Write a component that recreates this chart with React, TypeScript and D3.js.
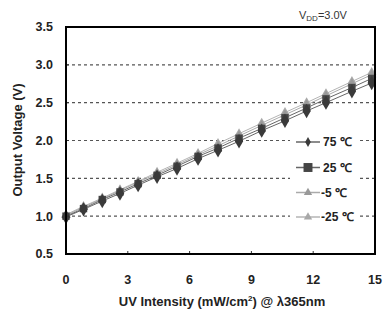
import * as d3 from 'd3';
import React from 'react';

// UV intensity (mW/cm2) where each reading was taken
const intensity = [0, 0.85, 1.76, 2.62, 3.5, 4.42, 5.39, 6.41, 7.38, 8.4, 9.5, 10.63, 11.68, 12.62, 13.88, 14.84];

// output voltage (V) per temperature
const v75 = [0.99, 1.09, 1.2, 1.3, 1.41, 1.52, 1.63, 1.76, 1.87, 1.99, 2.13, 2.26, 2.39, 2.5, 2.65, 2.76];
const v25 = [1.0, 1.1, 1.22, 1.32, 1.43, 1.54, 1.66, 1.79, 1.9, 2.03, 2.16, 2.3, 2.43, 2.55, 2.7, 2.82];
const vm5 = [1.01, 1.12, 1.23, 1.34, 1.45, 1.56, 1.68, 1.81, 1.93, 2.06, 2.2, 2.34, 2.47, 2.59, 2.75, 2.87];
const vm25 = [1.02, 1.13, 1.24, 1.35, 1.46, 1.58, 1.7, 1.83, 1.96, 2.09, 2.23, 2.37, 2.5, 2.62, 2.78, 2.9];

const seriesNames = ['75 ℃', '25 ℃', '-5 ℃', '-25 ℃'];
const xTicks = [0, 3, 6, 9, 12, 15];
const yTicks = [0.5, 1.0, 1.5, 2.0, 2.5, 3.0, 3.5];
const gridValues = [1.0, 1.5, 2.0, 2.5, 3.0];

type Marker = 'diamond' | 'square' | 'triangle';
const styles: { line: string; fill: string; marker: Marker; size: number; legendSize: number }[] = [
    { line: '#666', fill: '#3a3a3a', marker: 'diamond', size: 60, legendSize: 28 },
    { line: '#666', fill: '#454545', marker: 'square', size: 55, legendSize: 80 },
    { line: '#aaa', fill: '#999', marker: 'triangle', size: 38, legendSize: 30 },
    { line: '#b4b4b4', fill: '#a8a8a8', marker: 'triangle', size: 38, legendSize: 30 },
];

const W = 384, H = 314;
const M = { left: 66, right: 375, top: 27, bottom: 254 };
const FONT = '"Liberation Sans", Arial, sans-serif';

function symbolPath(m: Marker, size: number) {
    const t = m === 'diamond' ? d3.symbolDiamond : m === 'square' ? d3.symbolSquare : d3.symbolTriangle;
    return d3.symbol().type(t).size(size)()!;
}

export default function App() {
    const x = d3.scaleLinear([0, 15], [M.left, M.right]);
    const y = d3.scaleLinear([0.5, 3.5], [M.bottom, M.top]);
    const allSeries = [v75, v25, vm5, vm25];

    const line = d3.line<number>()
        .x((_d, i) => x(intensity[i]))
        .y(d => y(d));

    // light series first so the dark markers sit on top
    const drawOrder = [3, 2, 1, 0];
    const legendY = [142, 167.5, 192.5, 217];

    return (
        <svg width={W} height={H} style={{ position: 'absolute', left: 0, top: 0, background: '#fff' }}
            fontFamily={FONT}>
            {gridValues.map(v => (
                <line key={v} x1={M.left} x2={M.right} y1={y(v)} y2={y(v)}
                    stroke="#555" strokeWidth={1.2} strokeDasharray="3,3" />
            ))}
            {drawOrder.map(si => (
                <path key={'l' + si} d={line(allSeries[si])!} fill="none" stroke={styles[si].line} strokeWidth={1} />
            ))}
            {drawOrder.map(si => (
                <g key={'m' + si}>
                    {allSeries[si].map((v, i) => (
                        <path key={i} transform={`translate(${x(intensity[i])},${y(v)})`}
                            d={symbolPath(styles[si].marker, styles[si].size)} fill={styles[si].fill} />
                    ))}
                </g>
            ))}

            {/* legend */}
            <rect x={290} y={130} width={70} height={98} fill="#fff" />
            {seriesNames.map((name, i) => (
                <g key={name} transform={`translate(0,${legendY[i]})`}>
                    <line x1={296} x2={320} y1={0} y2={0} stroke={styles[i].line} strokeWidth={1.5} />
                    <path transform="translate(308,0)" d={symbolPath(styles[i].marker, styles[i].legendSize)}
                        fill={styles[i].fill} />
                    <text x={i >= 2 ? 321 : 323} y={0} dy="0.35em" fontSize={12} fontWeight="bold" fill="#222">{name}</text>
                </g>
            ))}

            {/* ticks inside the frame */}
            {xTicks.slice(1, -1).map(t => (
                <line key={'xt' + t} x1={x(t)} x2={x(t)} y1={M.bottom} y2={M.bottom - 3} stroke="#333" />
            ))}
            {yTicks.slice(1, -1).map(t => (
                <line key={'yt' + t} x1={M.left} x2={M.left + 3} y1={y(t)} y2={y(t)} stroke="#333" />
            ))}
            <rect x={M.left} y={M.top} width={M.right - M.left} height={M.bottom - M.top}
                fill="none" stroke="#000" strokeWidth={2} />

            {xTicks.map(t => (
                <text key={'xl' + t} x={x(t)} y={280} dy="0.35em" textAnchor="middle"
                    fontSize={12.5} fontWeight="bold" fill="#222">{t}</text>
            ))}
            {yTicks.map(t => (
                <text key={'yl' + t} x={53} y={y(t)} dy="0.35em" textAnchor="end"
                    fontSize={12.5} fontWeight="bold" fill="#222">{t.toFixed(1)}</text>
            ))}

            <text x={222} y={301} dy="0.35em" textAnchor="middle" fontSize={13} fontWeight="bold" fill="#222">
                UV Intensity (mW/cm<tspan dy="-5" fontSize={8}>2</tspan><tspan dy="5">) @ λ365nm</tspan>
            </text>
            <text transform="translate(17,140) rotate(-90)" textAnchor="middle" dy="0.35em"
                fontSize={13} fontWeight="bold" fill="#222">Output Voltage (V)</text>

            <text x={299} y={15} dy="0.35em" fontSize={11} fill="#333">
                V<tspan dy="2" fontSize={8}>DD</tspan><tspan dy="-2">=3.0V</tspan>
            </text>
        </svg>
    );
}
